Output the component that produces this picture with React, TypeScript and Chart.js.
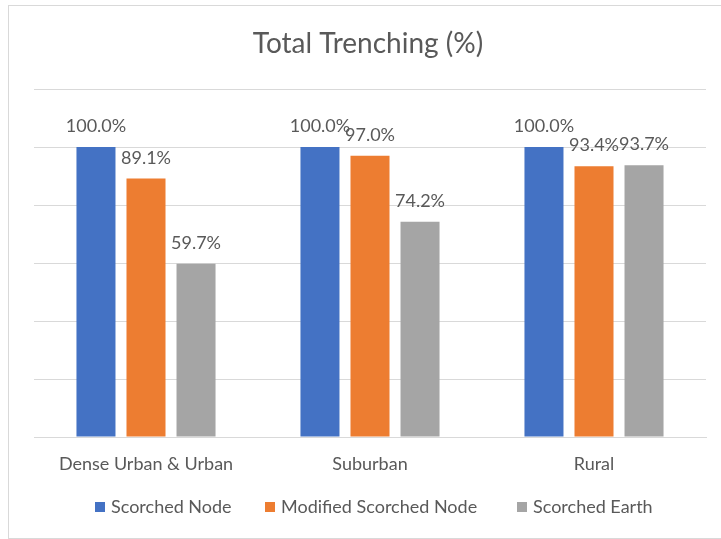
import React, { useEffect, useRef } from "react";
import { Chart, registerables } from "chart.js";

Chart.register(...registerables);

const categories = ["Dense Urban & Urban", "Suburban", "Rural"];
const scorchedNode = [100.0, 100.0, 100.0];
const modifiedScorchedNode = [89.1, 97.0, 93.4];
const scorchedEarth = [59.7, 74.2, 93.7];
const seriesNames = ["Scorched Node", "Modified Scorched Node", "Scorched Earth"];
const seriesColors = ["#4472C4", "#ED7D31", "#A5A5A5"];
const titleText = "Total Trenching (%)";

const FONT = "Lato, 'Open Sans', sans-serif";
const TEXT = "#595959";

const overlayPlugin = {
  id: "overlay",
  afterDatasetsDraw(chart: any) {
    const ctx = chart.ctx;
    ctx.save();
    // data labels
    ctx.fillStyle = TEXT;
    ctx.font = `18px ${FONT}`;
    ctx.textAlign = "center";
    ctx.textBaseline = "alphabetic";
    chart.data.datasets.forEach((ds: any, i: number) => {
      const meta = chart.getDatasetMeta(i);
      meta.data.forEach((bar: any, j: number) => {
        ctx.fillText(ds.data[j].toFixed(1) + "%", bar.x, bar.y - 15);
      });
    });
    // title
    ctx.font = `28px ${FONT}`;
    ctx.textBaseline = "middle";
    ctx.fillText(titleText, 368, 44);
    // legend
    ctx.font = `18px ${FONT}`;
    ctx.textAlign = "left";
    const boxes = [95, 265, 517];
    seriesNames.forEach((name, i) => {
      ctx.fillStyle = seriesColors[i];
      ctx.fillRect(boxes[i], 502, 10, 10);
      ctx.fillStyle = TEXT;
      ctx.fillText(name, boxes[i] + 16, 507);
    });
    ctx.restore();
  },
};

export default function App() {
  const ref = useRef<HTMLCanvasElement>(null);
  useEffect(() => {
    if (!ref.current) return;
    const chart = new Chart(ref.current, {
      type: "bar",
      data: {
        labels: categories,
        datasets: [
          { label: seriesNames[0], data: scorchedNode, backgroundColor: seriesColors[0] },
          { label: seriesNames[1], data: modifiedScorchedNode, backgroundColor: seriesColors[1] },
          { label: seriesNames[2], data: scorchedEarth, backgroundColor: seriesColors[2] },
        ],
      },
      options: {
        responsive: false,
        maintainAspectRatio: false,
        animation: false,
        devicePixelRatio: 1,
        categoryPercentage: 0.67,
        barPercentage: 0.78,
        layout: { padding: { left: 34, right: 15, top: 89, bottom: 62 } },
        plugins: {
          legend: { display: false },
          title: { display: false },
          tooltip: { enabled: false },
        },
        scales: {
          x: {
            grid: { display: false, drawTicks: false },
            border: { display: true, color: "#D9D9D9", width: 1 },
            ticks: { color: TEXT, font: { family: FONT, size: 18 }, padding: 16 },
            afterFit: (s: any) => { s.height = 40; },
          },
          y: {
            min: 0,
            max: 120,
            ticks: { display: false, stepSize: 20 },
            grid: { color: "#D9D9D9", drawTicks: false, lineWidth: 1 },
            border: { display: false },
            afterFit: (s: any) => { s.width = 0; },
          },
        },
      } as any,
      plugins: [overlayPlugin],
    });
    return () => chart.destroy();
  }, []);
  return (
    <div style={{ position: "absolute", left: 0, top: 0, width: 721, height: 539, background: "#fff", overflow: "hidden" }}>
      <canvas ref={ref} width={721} height={539} style={{ position: "absolute", left: 0, top: 0, width: 721, height: 539 }} />
      <div style={{ position: "absolute", left: 8, top: 5, width: 740, height: 534, border: "1px solid #D9D9D9", boxSizing: "border-box", pointerEvents: "none" }} />
    </div>
  );
}
